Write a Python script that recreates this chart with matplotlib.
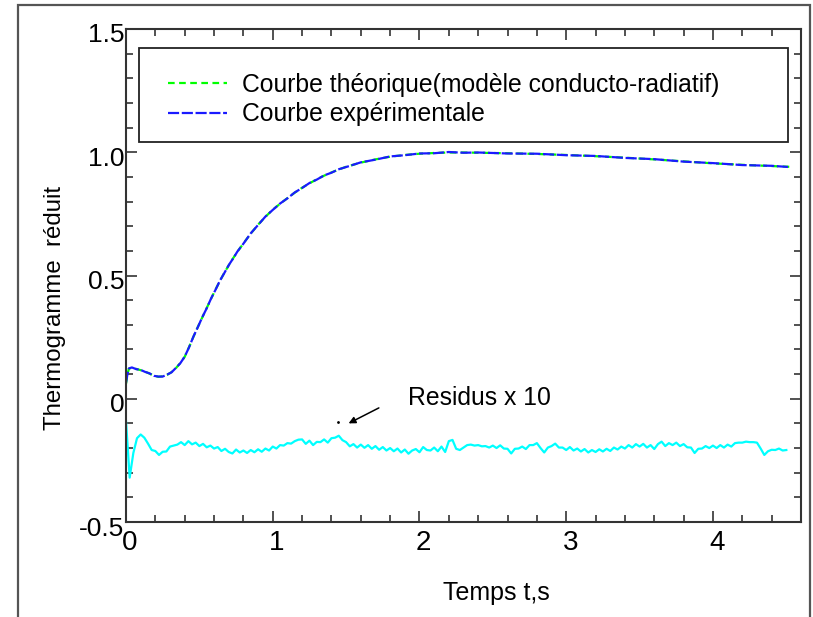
import numpy as np
import matplotlib
matplotlib.use("Agg")
import matplotlib.pyplot as plt
from matplotlib.patches import Rectangle
from matplotlib.transforms import ScaledTranslation

plt.rcParams['font.family'] = ['Liberation Sans', 'DejaVu Sans']

# thermogramme
t_curve = [0, 0.01, 0.02, 0.04, 0.07, 0.10, 0.13, 0.16, 0.19, 0.22, 0.25, 0.28,
           0.31, 0.34, 0.37, 0.40, 0.43, 0.46, 0.49, 0.52, 0.55, 0.58, 0.61,
           0.64, 0.67, 0.70, 0.73, 0.76, 0.80, 0.85, 0.90, 0.95, 1.00, 1.05,
           1.10, 1.15, 1.20, 1.25, 1.30, 1.35, 1.40, 1.45, 1.50, 1.60, 1.70,
           1.80, 1.90, 2.00, 2.10, 2.20, 2.30, 2.40, 2.60, 2.80, 3.00, 3.20,
           3.40, 3.60, 3.80, 4.00, 4.20, 4.40, 4.52]
y_theo = [0.06, 0.10, 0.122, 0.126, 0.121, 0.116, 0.110, 0.102, 0.094, 0.089,
          0.091, 0.097, 0.108, 0.124, 0.145, 0.170, 0.210, 0.252, 0.292, 0.330,
          0.368, 0.406, 0.443, 0.478, 0.511, 0.541, 0.570, 0.597, 0.630, 0.670,
          0.706, 0.738, 0.767, 0.791, 0.814, 0.836, 0.856, 0.874, 0.890, 0.905,
          0.918, 0.930, 0.941, 0.958, 0.971, 0.982, 0.989, 0.994, 0.997, 0.999,
          0.999, 0.998, 0.996, 0.993, 0.989, 0.984, 0.978, 0.971, 0.963, 0.955,
          0.949, 0.944, 0.941]
y_exp = [0.065, 0.10, 0.123, 0.127, 0.120, 0.117, 0.109, 0.103, 0.093, 0.090,
         0.090, 0.098, 0.107, 0.125, 0.144, 0.171, 0.209, 0.253, 0.291, 0.331,
         0.367, 0.407, 0.442, 0.479, 0.510, 0.542, 0.569, 0.598, 0.629, 0.671,
         0.705, 0.739, 0.766, 0.792, 0.813, 0.837, 0.855, 0.875, 0.889, 0.906,
         0.917, 0.931, 0.940, 0.959, 0.970, 0.983, 0.988, 0.995, 0.996, 1.001,
         0.998, 0.999, 0.995, 0.994, 0.988, 0.985, 0.977, 0.972, 0.962, 0.956,
         0.948, 0.945, 0.940]

# residus x 10, sampled every 0.025 s
res_step = 0.025
residus = [
    -0.09, -0.32, -0.22, -0.16, -0.145, -0.158, -0.182, -0.208, -0.212, -0.228,
    -0.215, -0.214, -0.194, -0.19, -0.186, -0.176, -0.188, -0.172, -0.185, -0.178,
    -0.192, -0.183, -0.197, -0.19, -0.202, -0.196, -0.212, -0.203, -0.216, -0.222,
    -0.206, -0.218, -0.21, -0.22, -0.208, -0.217, -0.205, -0.215, -0.202, -0.21,
    -0.194, -0.202, -0.188, -0.19, -0.18, -0.182, -0.172, -0.166, -0.165, -0.183,
    -0.17, -0.188, -0.175, -0.176, -0.165, -0.178, -0.16, -0.158, -0.15, -0.168,
    -0.176, -0.193, -0.184, -0.198, -0.186, -0.199, -0.188, -0.203, -0.192, -0.207,
    -0.196, -0.21, -0.2, -0.213, -0.202, -0.218, -0.206, -0.223, -0.21, -0.204,
    -0.217, -0.196, -0.208, -0.21, -0.198, -0.213, -0.194, -0.216, -0.172, -0.167,
    -0.203, -0.208, -0.198, -0.188, -0.186, -0.19, -0.188, -0.193, -0.192, -0.198,
    -0.19, -0.2, -0.189, -0.202, -0.203, -0.222, -0.203, -0.202, -0.194, -0.204,
    -0.188, -0.188, -0.18, -0.2, -0.218, -0.198, -0.192, -0.182, -0.198, -0.198,
    -0.208, -0.196, -0.21, -0.202, -0.214, -0.204, -0.218, -0.208, -0.216, -0.205,
    -0.214, -0.203, -0.212, -0.198, -0.206, -0.194, -0.202, -0.188, -0.198, -0.184,
    -0.194, -0.183, -0.198, -0.188, -0.204, -0.184, -0.174, -0.192, -0.18, -0.188,
    -0.178, -0.192, -0.184, -0.197, -0.198, -0.22, -0.203, -0.202, -0.192, -0.2,
    -0.19, -0.2, -0.188, -0.198, -0.186, -0.194, -0.18, -0.178, -0.178, -0.174,
    -0.176, -0.176, -0.178, -0.202, -0.228, -0.213, -0.207, -0.208, -0.202, -0.21,
    -0.208]
t_res = np.arange(len(residus)) * res_step

xticks = [0, 1, 2, 3, 4]
yticks = [-0.5, 0, 0.5, 1.0, 1.5]
ytick_labels = ['-0.5', '0', '0.5', '1.0', '1.5']

fig = plt.figure(figsize=(8.13, 6.17), dpi=100)
ax = fig.add_axes([126 / 813, 95 / 617, 675 / 813, 493 / 617])

# outer frame of the picture
fig.patches.append(Rectangle((18 / 813, -0.05), 792 / 813, 612 / 617 + 0.05,
                             transform=fig.transFigure, fill=False,
                             edgecolor='#555555', lw=1.6))

ax.plot(t_res, residus, color='#00ffff', lw=1.6)
ax.plot(t_curve, y_theo, color='#00ff00', lw=1.6, dashes=(3, 2),
        label='Courbe théorique(modèle conducto-radiatif)')
ax.plot(t_curve, y_exp, color='#1a1aff', lw=1.6, dashes=(5, 1.2),
        label='Courbe expérimentale')

ax.set_xlim(0, 4.6)
ax.set_ylim(-0.5, 1.5)
ax.set_xticks(xticks)
ax.set_xticklabels([str(v) for v in xticks])
ax.set_yticks(yticks)
ax.set_yticklabels(ytick_labels)
ax.set_xticks(np.arange(0, 4.61, 0.2), minor=True)
ax.set_yticks(np.arange(-0.5, 1.51, 0.1), minor=True)
ax.tick_params(which='both', direction='in', top=True, right=True,
               width=1.2, color='#333333', labelsize=19)
ax.tick_params(axis='x', labelsize=20)
ax.tick_params(which='major', length=8)
ax.tick_params(which='minor', length=5)
ax.tick_params(axis='y', pad=1)
ax.tick_params(axis='x', pad=6)
for s in ax.spines.values():
    s.set_linewidth(1.5)
    s.set_color('#333333')

off = ScaledTranslation(0, -0.04, fig.dpi_scale_trans)
for lab in ax.get_yticklabels():
    lab.set_transform(lab.get_transform() + off)
offx = ScaledTranslation(0.04, 0, fig.dpi_scale_trans)
for lab in ax.get_xticklabels():
    lab.set_transform(lab.get_transform() + offx)

ax.set_xlabel('Temps t,s', fontsize=18)
ax.xaxis.set_label_coords(0.548, -0.119)
ax.set_ylabel('Thermogramme  réduit', fontsize=17.3)
ax.yaxis.set_label_coords(-0.089, 0.434)

# legend with its own box
ax.add_patch(Rectangle((0.019, 0.771), 0.962, 0.19, transform=ax.transAxes,
                       fill=False, edgecolor='#222222', lw=1.3, zorder=5))
ax.legend(loc='upper left', bbox_to_anchor=(0.062, 0.911), frameon=False,
          fontsize=17.8, borderpad=0, borderaxespad=0, handlelength=2.4,
          handletextpad=0.6, labelspacing=0.22)

ax.text(1.925, -0.026, 'Residus x 10', fontsize=17.8, va='baseline')
ax.annotate('', xy=(1.50, -0.105), xytext=(1.74, -0.032),
            arrowprops=dict(arrowstyle='-|>', color='black', lw=1.1))
ax.plot([1.447], [-0.095], marker='.', color='black', markersize=2)

fig.savefig('out.png', dpi=100)
